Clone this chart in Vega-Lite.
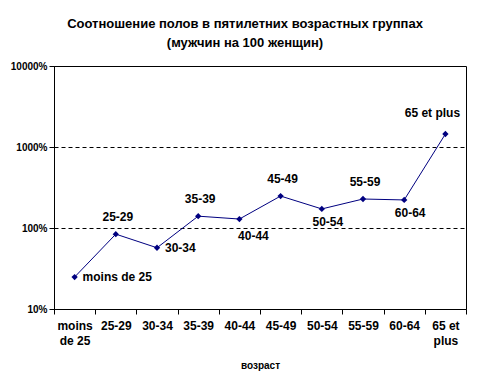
{
  "$schema": "https://vega.github.io/schema/vega-lite/v6.json",
  "autosize": "none",
  "width": 412,
  "height": 243,
  "padding": {"left": 54, "top": 66, "right": 24, "bottom": 82},
  "background": "white",
  "config": {
    "font": "Liberation Sans",
    "view": {"stroke": "black", "strokeWidth": 1}
  },
  "title": {
    "text": ["Соотношение полов в пятилетних возрастных группах", "(мужчин на 100 женщин)"],
    "font": "Liberation Sans",
    "fontSize": 13,
    "fontWeight": "bold",
    "lineHeight": 19,
    "anchor": "middle",
    "dx": -15,
    "offset": 11,
    "color": "black"
  },
  "data": {
    "values": [
      {"age": "moins de 25", "ratio": 24.8},
      {"age": "25-29", "ratio": 84},
      {"age": "30-34", "ratio": 57},
      {"age": "35-39", "ratio": 140},
      {"age": "40-44", "ratio": 129},
      {"age": "45-49", "ratio": 248},
      {"age": "50-54", "ratio": 172},
      {"age": "55-59", "ratio": 228},
      {"age": "60-64", "ratio": 222},
      {"age": "65 et plus", "ratio": 1446}
    ]
  },
  "encoding": {
    "x": {
      "field": "age",
      "type": "nominal",
      "sort": null,
      "scale": {"paddingInner": 0, "paddingOuter": 0},
      "axis": {
        "title": "возраст",
        "titleFont": "Liberation Sans",
        "titleFontSize": 10,
        "titleFontWeight": "bold",
        "titleColor": "black",
        "titlePadding": 14,
        "labelAngle": 0,
        "labelFont": "Liberation Sans",
        "labelFontSize": 12,
        "labelFontWeight": "bold",
        "labelColor": "black",
        "labelLineHeight": 15,
        "labelPadding": 6,
        "labelExpr": "datum.value == 'moins de 25' ? ['moins', 'de 25'] : (datum.value == '65 et plus' ? ['65 et', 'plus'] : datum.value)",
        "tickBand": "extent",
        "tickColor": "black",
        "tickSize": 5,
        "domainColor": "black",
        "grid": false
      }
    },
    "y": {
      "field": "ratio",
      "type": "quantitative",
      "scale": {"type": "log", "domain": [10, 10000]},
      "axis": {
        "title": null,
        "values": [10, 100, 1000, 10000],
        "labelExpr": "datum.value + '%'",
        "labelFont": "Liberation Sans",
        "labelFontSize": 10,
        "labelFontWeight": "bold",
        "labelColor": "black",
        "labelPadding": 2,
        "tickColor": "black",
        "tickSize": 5,
        "domainColor": "black",
        "grid": true,
        "gridColor": "black",
        "gridDash": [4, 3],
        "gridWidth": 1
      }
    }
  },
  "layer": [
    {"mark": {"type": "line", "color": "#000080", "strokeWidth": 1}},
    {"mark": {"type": "point", "shape": "diamond", "filled": true, "color": "#000080", "size": 40, "opacity": 1}},
    {
      "transform": [{"filter": {"field": "age", "oneOf": ["moins de 25", "30-34"]}}],
      "mark": {"type": "text", "align": "left", "baseline": "middle", "dx": 8, "dy": 0, "font": "Liberation Sans", "fontSize": 12, "fontWeight": "bold", "color": "black"},
      "encoding": {"text": {"field": "age"}}
    },
    {
      "transform": [{"filter": {"field": "age", "oneOf": ["25-29", "35-39", "45-49", "55-59"]}}],
      "mark": {"type": "text", "align": "center", "baseline": "middle", "dx": 2, "dy": -17, "font": "Liberation Sans", "fontSize": 12, "fontWeight": "bold", "color": "black"},
      "encoding": {"text": {"field": "age"}}
    },
    {
      "transform": [{"filter": {"field": "age", "oneOf": ["40-44"]}}],
      "mark": {"type": "text", "align": "center", "baseline": "middle", "dx": 14, "dy": 17, "font": "Liberation Sans", "fontSize": 12, "fontWeight": "bold", "color": "black"},
      "encoding": {"text": {"field": "age"}}
    },
    {
      "transform": [{"filter": {"field": "age", "oneOf": ["50-54", "60-64"]}}],
      "mark": {"type": "text", "align": "center", "baseline": "middle", "dx": 6, "dy": 13, "font": "Liberation Sans", "fontSize": 12, "fontWeight": "bold", "color": "black"},
      "encoding": {"text": {"field": "age"}}
    },
    {
      "transform": [{"filter": {"field": "age", "oneOf": ["65 et plus"]}}],
      "mark": {"type": "text", "align": "center", "baseline": "middle", "dx": -13, "dy": -21, "font": "Liberation Sans", "fontSize": 12, "fontWeight": "bold", "color": "black"},
      "encoding": {"text": {"field": "age"}}
    }
  ]
}
